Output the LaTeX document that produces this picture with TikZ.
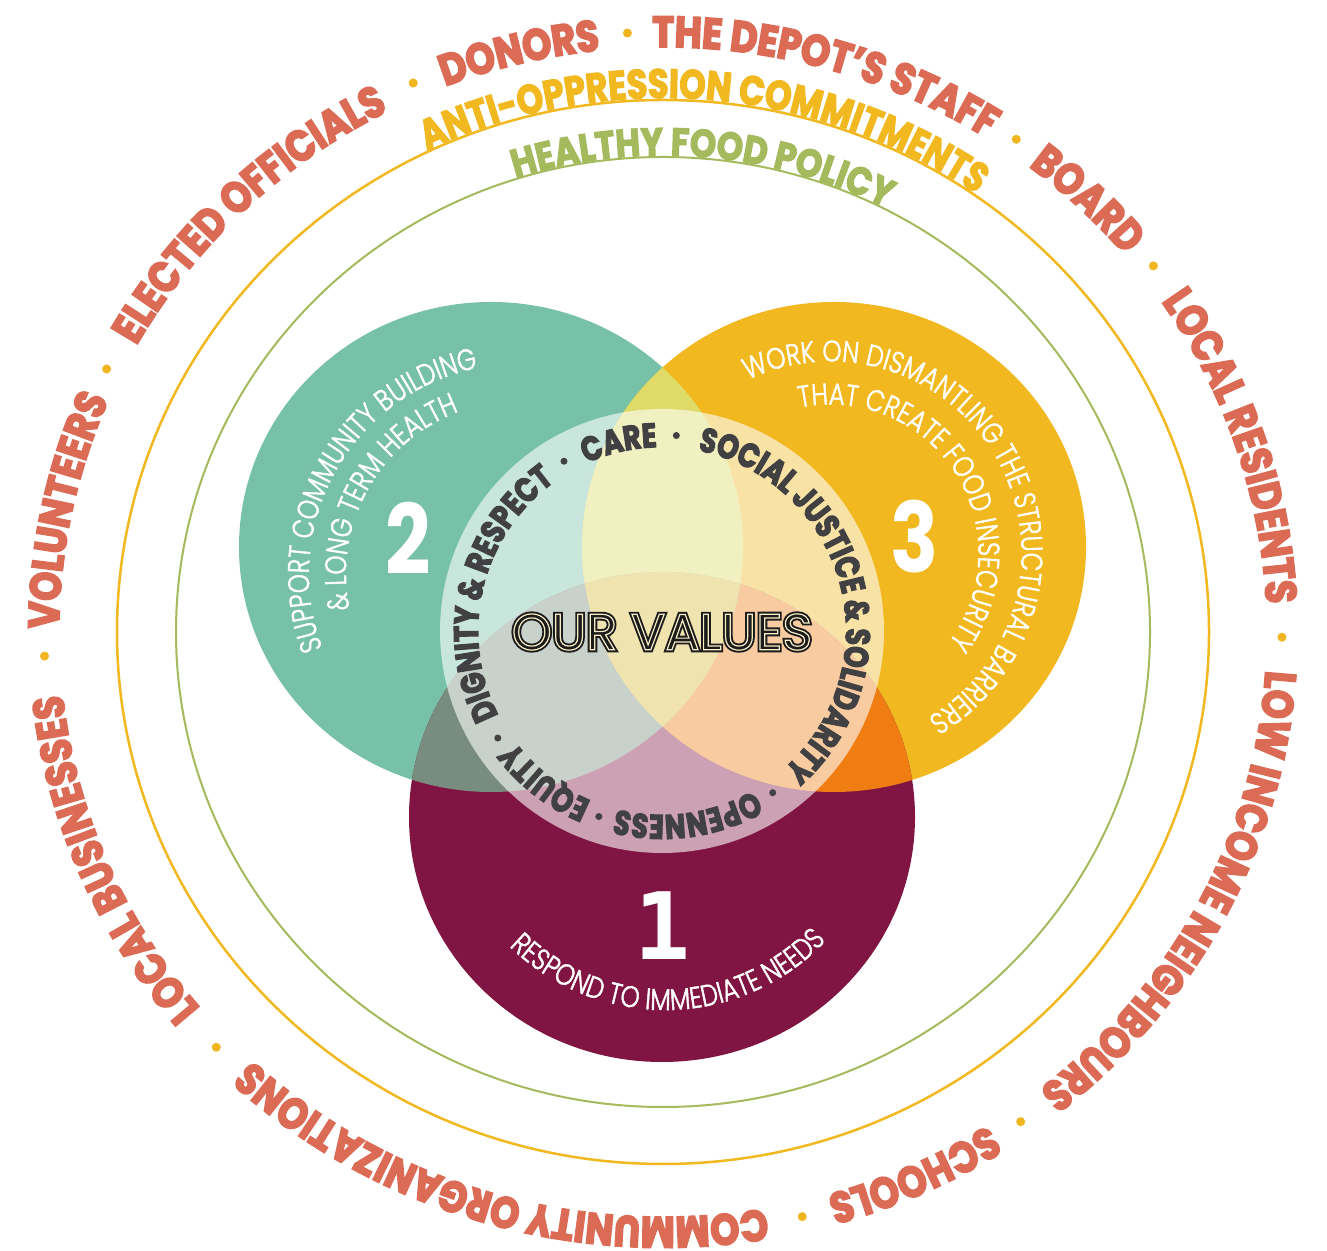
\documentclass[tikz,border=0pt]{standalone}
\usepackage{fontspec}
\usetikzlibrary{decorations.text}
\newfontfamily\poppins{Poppins}
\newfontfamily\poppinsO{Poppins}[FakeStretch=0.85, BoldFeatures={FakeBold=4}]
\newfontfamily\poppinsV{Poppins}[FakeStretch=0.8, BoldFeatures={FakeBold=3.5}]
\newfontfamily\poppinsA{Poppins}[FakeStretch=0.82, BoldFeatures={FakeBold=3}]
\newfontfamily\poppinsH{Poppins}[FakeStretch=0.86, BoldFeatures={FakeBold=3}]
\newfontfamily\poppinsN{Poppins}[FakeStretch=0.82]
\newfontfamily\poppinsL{Poppins Light}[FakeStretch=0.81, FakeBold=1.5]
\newfontfamily\dvmono{DejaVu Sans Mono}

\newcommand\fOuter{\poppinsO\bfseries\fontsize{43.5pt}{50pt}\selectfont}
\newcommand\fVal{\poppinsV\bfseries\fontsize{34pt}{38pt}\selectfont}
\newcommand\fAnti{\poppinsA\bfseries\fontsize{41pt}{45pt}\selectfont}
\newcommand\fHealthy{\poppinsH\bfseries\fontsize{39pt}{43pt}\selectfont}
\newcommand\fThin{\poppinsL\fontsize{30pt}{33pt}\selectfont}
\newcommand\fOur{\poppins\fontsize{51pt}{56pt}\selectfont}

\definecolor{salmonc}{HTML}{DB6B55}
\definecolor{goldc}{HTML}{F1B820}
\definecolor{golddot}{HTML}{F0B51F}
\definecolor{greenc}{HTML}{A4BA5C}
\definecolor{tealc}{HTML}{77C1A8}
\definecolor{maroonc}{HTML}{801543}
\definecolor{tgc}{HTML}{DEDB66}
\definecolor{tmc}{HTML}{788C7F}
\definecolor{gmc}{HTML}{F07D12}
\definecolor{allc}{HTML}{D9BB37}
\definecolor{valtext}{HTML}{414042}
\definecolor{ourc}{HTML}{1B1B1B}

\tikzset{
  phrase/.style 2 args={decorate, decoration={text along path, text align=center, text color=#1, text={#2}}},
  numstyle/.style={text=white, inner sep=0pt, font=\poppinsN\bfseries\fontsize{97pt}{100pt}\selectfont},
  ringline/.style={line width=#1},
  ourstyle/.style={text=ourc, inner sep=0pt, font=\fOur},
}
% clockwise text: #1 colour, #2 text, #3 centre angle, #4 half span, #5 rx, #6 ry
\newcommand\cwtext[6]{%
  \path[phrase={#1}{#2}] ({#3+#4}:#5 and #6) arc[start angle={#3+#4}, end angle={#3-#4}, x radius=#5, y radius=#6];}

\begin{document}
\begin{tikzpicture}[x=1pt,y=1pt]
\useasboundingbox (0,0) rectangle (1327,1250);
\fill[white] (0,0) rectangle (1327,1250);

% ---------- outer ring of stakeholders ----------
\begin{scope}[shift={(663,618)}]
  \cwtext{salmonc}{|\fOuter|ELECTED OFFICIALS}{133.9}{20}{604pt}{585pt}
  \cwtext{salmonc}{|\fOuter|DONORS}{103.55}{10}{604pt}{585pt}
  \cwtext{salmonc}{|\fOuter|THE DEPOT’S STAFF}{74.25}{19}{604pt}{585pt}
  \cwtext{salmonc}{|\fOuter|BOARD}{46.4}{8.8}{604pt}{585pt}
  \cwtext{salmonc}{|\fOuter|LOCAL RESIDENTS}{18.55}{19}{604pt}{585pt}
  \cwtext{salmonc}{|\fOuter|LOW INCOME NEIGHBOURS}{-27.6}{27}{604pt}{585pt}
  \cwtext{salmonc}{|\fOuter|SCHOOLS}{-65.85}{11}{604pt}{585pt}
  \cwtext{salmonc}{|\fOuter|COMMUNITY ORGANIZATIONS}{-106.6}{29.6}{604pt}{585pt}
  \cwtext{salmonc}{|\fOuter|LOCAL BUSINESSES}{-156.95}{20.7}{604pt}{585pt}
  \cwtext{salmonc}{|\fOuter|VOLUNTEERS}{168.15}{14}{604pt}{585pt}
  \foreach \a in {154,113.8,93.3,55.2,37.6,-0.5,-54.7,-77,-136.2,-177.7}
    \fill[golddot] (\a:619pt and 600pt) circle (4.5pt);
  % rings
  \draw[goldc, ringline=2.5pt] (0,0) ellipse [x radius=546pt, y radius=532pt];
  \draw[greenc, ringline=2pt] (0,0) ellipse [x radius=487pt, y radius=475pt];
  \cwtext{goldc}{|\fAnti|ANTI-OPPRESSION COMMITMENTS}{85.3}{36}{548pt}{534pt}
  \cwtext{greenc}{|\fHealthy|HEALTHY FOOD POLICY}{85.2}{27}{488.5pt}{476.5pt}
\end{scope}

% ---------- the three circles ----------
\fill[tealc] (491,703) ellipse [x radius=252pt, y radius=245pt];
\fill[goldc] (834,703) ellipse [x radius=252pt, y radius=245pt];
\fill[maroonc] (662,433) ellipse [x radius=253pt, y radius=245pt];
\begin{scope}
  \clip (834,703) ellipse [x radius=252pt, y radius=245pt];
  \fill[gmc] (662,433) ellipse [x radius=253pt, y radius=245pt];
\end{scope}
\begin{scope}
  \clip (491,703) ellipse [x radius=252pt, y radius=245pt];
  \fill[tgc] (834,703) ellipse [x radius=252pt, y radius=245pt];
  \fill[tmc] (662,433) ellipse [x radius=253pt, y radius=245pt];
  \clip (834,703) ellipse [x radius=252pt, y radius=245pt];
  \fill[allc] (662,433) ellipse [x radius=253pt, y radius=245pt];
\end{scope}

% ---------- values circle ----------
\fill[white, fill opacity=0.6] (662,619) circle (222pt);
\begin{scope}[shift={(662,619)}]
  \cwtext{valtext}{|\fVal|DIGNITY {\&} RESPECT}{166.5}{45}{184pt}{184pt}
  \cwtext{valtext}{|\fVal|CARE}{102.9}{16}{184pt}{184pt}
  \cwtext{valtext}{|\fVal|SOCIAL JUSTICE {\&} SOLIDARITY}{15.1}{69}{184pt}{184pt}
  \cwtext{valtext}{|\fVal|OPENNESS}{-82.2}{25}{184pt}{184pt}
  \cwtext{valtext}{|\fVal|EQUITY}{-127.85}{18}{184pt}{184pt}
  \foreach \a in {120,85.8,-55.6,-108.8,-146.9}
    \fill[valtext] (\a:196pt) circle (3.5pt);
\end{scope}
% inline lettering: thick filled+stroked layer, then a thin light stroke-only layer
\node[ourstyle] (ourvalues) at (662,618)
  {\rlap{O}\special{pdf:literal direct 2 Tr 5 w}OUR VALUES\special{pdf:literal direct 0 Tr 1 w}};
\node[ourstyle] (ourinline) at (662,618)
  {\rlap{O}\special{pdf:literal direct 1 Tr 1.2 w 0.97 0.93 0.78 RG}OUR VALUES\special{pdf:literal direct 0 Tr 1 w}};

% ---------- numerals ----------
\node[numstyle] (two) at (408,712) {2};
\node[numstyle] (three) at (915,713) {3};
\node[text=white, inner sep=0pt, font=\dvmono\bfseries\fontsize{93pt}{96pt}\selectfont] (one) at (662,324) {1};

% ---------- circle texts ----------
\begin{scope}[shift={(519,676)}]
  \cwtext{white}{|\fThin|SUPPORT COMMUNITY BUILDING}{151}{58}{210pt}{210pt}
  \cwtext{white}{|\fThin|{\&} LONG TERM HEALTH}{151}{52}{173pt}{173pt}
\end{scope}
\begin{scope}[shift={(830,697)}]
  \cwtext{white}{|\fThin|WORK ON DISMANTLING THE STRUCTURAL BARRIERS}{28}{108}{191.5pt}{191.5pt}
  \cwtext{white}{|\fThin|THAT CREATE FOOD INSECURITY}{32.3}{82}{148.5pt}{148.5pt}
\end{scope}
\begin{scope}[shift={(665,462)}]
  \path[phrase={white}{|\fThin|RESPOND TO IMMEDIATE NEEDS}] (-147:222pt) arc[start angle=-147, end angle=-31, radius=222pt];
\end{scope}
\end{tikzpicture}
\end{document}
